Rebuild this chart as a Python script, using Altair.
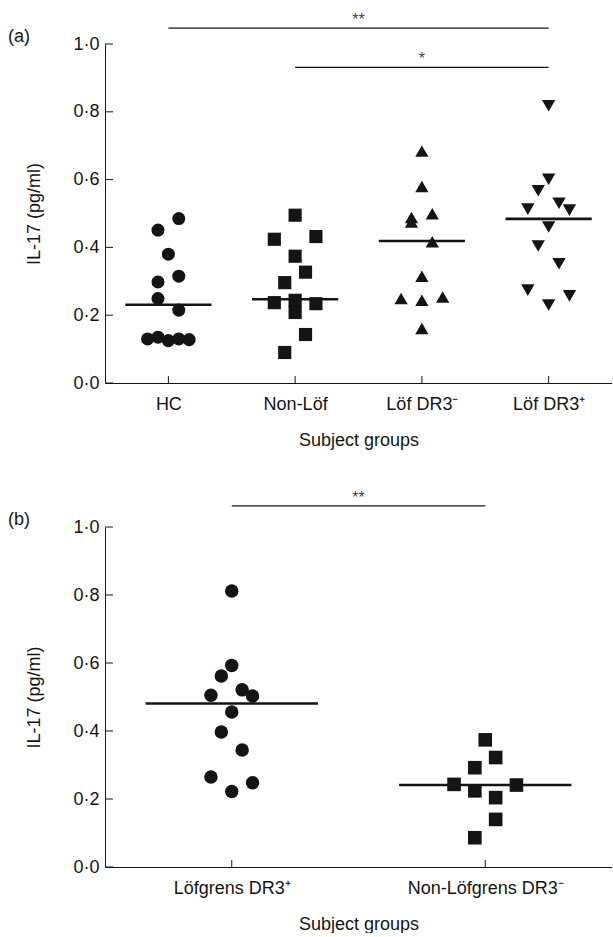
import json
import altair as alt
import pandas as pd

# ---------------- data ----------------
# Panel (a)
a_groups = ["HC", "Non-Löf", "Löf DR3⁻", "Löf DR3⁺"]
hc_vals = [0.485, 0.451, 0.380, 0.315, 0.298, 0.249, 0.215, 0.130, 0.135, 0.125, 0.130, 0.128]
hc_jit = [1, -1, 0, 1, -1, -1, 1, -2, -1, 0, 1, 2]
nonlof_vals = [0.495, 0.424, 0.432, 0.374, 0.327, 0.296, 0.244, 0.237, 0.234, 0.208, 0.143, 0.090]
nonlof_jit = [0, -2, 2, 0, 1, -1, 0, -2, 2, 0, 1, -1]
dr3neg_vals = [0.684, 0.580, 0.499, 0.488, 0.475, 0.417, 0.315, 0.254, 0.249, 0.244, 0.161]
dr3neg_jit = [0, 0, 1, -1, -1, 1, 0, 2, -2, 0, 0]
dr3pos_vals = [0.818, 0.601, 0.567, 0.530, 0.513, 0.510, 0.460, 0.404, 0.352, 0.274, 0.257, 0.230]
dr3pos_jit = [0, 0, -1, 1, -2, 2, 0, -1, 1, -2, 2, 0]
a_medians = [0.231, 0.247, 0.419, 0.484]
a_sig_from = [0, 1]
a_sig_to = [3, 3]
a_sig_level = [1.047, 0.931]
a_sig_text = ["**", "*"]

# Panel (b)
b_groups = ["Löfgrens DR3⁺", "Non-Löfgrens DR3⁻"]
lof_vals = [0.812, 0.593, 0.562, 0.521, 0.505, 0.503, 0.456, 0.397, 0.344, 0.265, 0.248, 0.222]
lof_jit = [0, 0, -1, 1, -2, 2, 0, -1, 1, -2, 2, 0]
nonlofb_vals = [0.374, 0.322, 0.292, 0.243, 0.241, 0.224, 0.204, 0.140, 0.086]
nonlofb_jit = [0, 1, -1, -3, 3, -1, 1, 1, -1]
b_medians = [0.481, 0.241]
b_sig_from = [0]
b_sig_to = [1]
b_sig_level = [1.062]
b_sig_text = ["**"]

y_ticks = [0.0, 0.2, 0.4, 0.6, 0.8, 1.0]

# ---------------- styling ----------------
INK = "#141414"
FONT = "Liberation Sans"
FS = 18
W = 507
JIT_PX = 10.4
MED_HALF = 0.34
SHAPES = {"circle": 170, "square": 185, "triangle-up": 200, "triangle-down": 200}


def panel(groups, shapes, vals_list, jit_list, medians, sfrom, sto, slevel, stext, tag, H):
    n = len(groups)
    step = W / n
    rows = []
    for i, (vals, jits) in enumerate(zip(vals_list, jit_list)):
        for v, j in zip(vals, jits):
            rows.append({"group": groups[i], "pos": i + j * JIT_PX / step, "il17": v})
    pts = pd.DataFrame(rows)
    med = pd.DataFrame({"lo": [i - MED_HALF for i in range(n)],
                        "hi": [i + MED_HALF for i in range(n)],
                        "m": medians})
    sig = pd.DataFrame({"a": sfrom, "b": sto, "lvl": slevel,
                        "mid": [(a + b) / 2 for a, b in zip(sfrom, sto)], "txt": stext})
    yt = pd.DataFrame({"v": y_ticks})
    xt = pd.DataFrame({"i": list(range(n))})
    tg = pd.DataFrame({"t": [tag]})

    xscale = alt.Scale(domain=[-0.5, n - 0.5], nice=False, zero=False)
    yscale = alt.Scale(domain=[0, 1], nice=False, zero=True)
    xaxis = alt.Axis(values=list(range(n)),
                     labelExpr=json.dumps(groups, ensure_ascii=False) + "[round(datum.value)]",
                     title="Subject groups", ticks=False, tickSize=0, grid=False,
                     labelPadding=12, titlePadding=18, labelFlush=False)
    yaxis = alt.Axis(values=y_ticks,
                     labelExpr="replace(format(datum.value, '.1f'), '.', '·')",
                     title="IL-17 (pg/ml)", ticks=False, tickSize=0, grid=False,
                     labelPadding=6, titlePadding=29, labelFlush=False)

    def X(f):
        return alt.X(f, scale=xscale, axis=xaxis, title="Subject groups")

    def Y(f):
        return alt.Y(f, scale=yscale, axis=yaxis, title="IL-17 (pg/ml)")

    points = alt.Chart(pts).mark_point(filled=True, opacity=1, color=INK, strokeWidth=0).encode(
        x=X("pos:Q"), y=Y("il17:Q"),
        shape=alt.Shape("group:N", scale=alt.Scale(domain=groups, range=shapes), legend=None),
        size=alt.Size("group:N", scale=alt.Scale(domain=groups, range=[SHAPES[s] for s in shapes]),
                      legend=None),
    )
    medians_l = alt.Chart(med).mark_rule(color=INK, strokeWidth=2.6).encode(
        x=X("lo:Q"), x2="hi:Q", y=Y("m:Q"))
    yticks = alt.Chart(yt).mark_rule(color=INK, strokeWidth=1).encode(
        y=Y("v:Q"), x=alt.value(0), x2=alt.value(8))
    xticks = alt.Chart(xt).mark_rule(color=INK, strokeWidth=1).encode(
        x=X("i:Q"), y=alt.value(H), y2=alt.value(H - 7))
    sig_rule = alt.Chart(sig).mark_rule(color=INK, strokeWidth=1.3).encode(
        x=X("a:Q"), x2="b:Q", y=Y("lvl:Q"))
    sig_txt = alt.Chart(sig).mark_text(font=FONT, fontSize=16, color="#444", dy=-3,
                                       baseline="alphabetic", align="center").encode(
        x=X("mid:Q"), y=Y("lvl:Q"), text="txt:N")
    tag_txt = alt.Chart(tg).mark_text(font=FONT, fontSize=FS, color=INK, align="center",
                                      baseline="middle").encode(
        text="t:N", x=alt.value(-86), y=alt.value(-7))

    return alt.layer(points, medians_l, yticks, xticks, sig_rule, sig_txt, tag_txt).properties(
        width=W, height=H)


pa = panel(a_groups, ["circle", "square", "triangle-up", "triangle-down"],
           [hc_vals, nonlof_vals, dr3neg_vals, dr3pos_vals],
           [hc_jit, nonlof_jit, dr3neg_jit, dr3pos_jit],
           a_medians, a_sig_from, a_sig_to, a_sig_level, a_sig_text, "(a)", 339)
pb = panel(b_groups, ["circle", "square"],
           [lof_vals, nonlofb_vals], [lof_jit, nonlofb_jit],
           b_medians, b_sig_from, b_sig_to, b_sig_level, b_sig_text, "(b)", 340)

chart = alt.vconcat(pa, pb, spacing=144, bounds="flush").configure_view(stroke=None).configure_axis(
    domainColor=INK, domainWidth=1, labelFont=FONT, labelFontSize=FS, labelColor=INK,
    titleFont=FONT, titleFontSize=FS, titleFontWeight="normal", titleColor=INK,
).properties(padding={"left": 8, "top": 12, "right": 0, "bottom": 0}, background="white")

chart.save("out.html", embed_options={"renderer": "svg", "actions": False})
